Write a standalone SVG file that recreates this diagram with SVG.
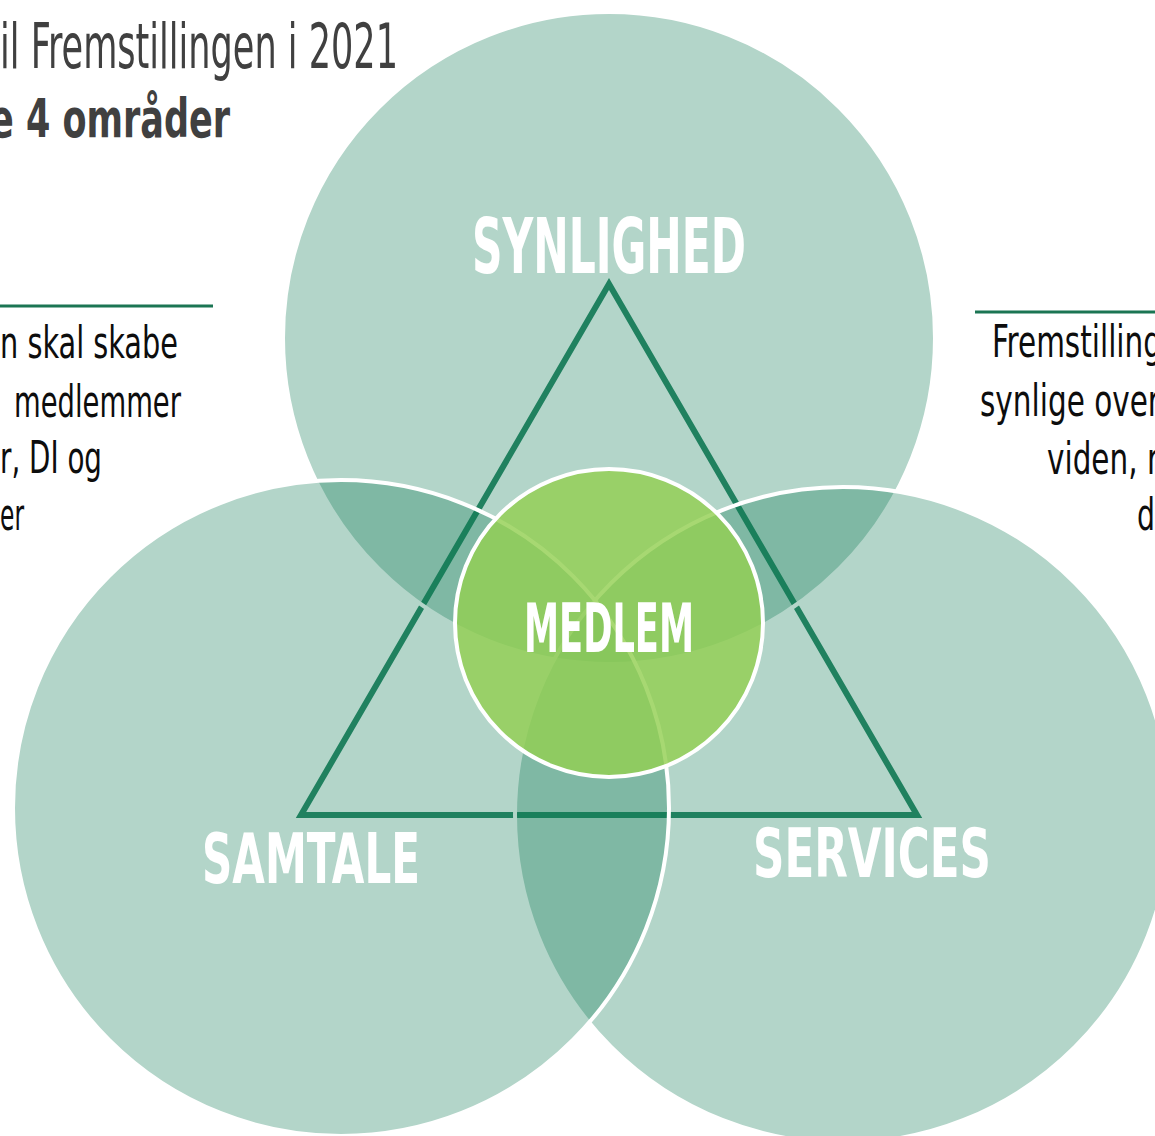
<svg xmlns="http://www.w3.org/2000/svg" width="1155" height="1136" viewBox="0 0 1155 1136">
  <style>
    .big { fill: #0f7a54; fill-opacity: 0.316; stroke: #ffffff; stroke-width: 4; }
    .lbl { font-family: 'DejaVu Sans Condensed', 'DejaVu Sans', sans-serif; font-stretch: condensed; font-weight: bold; fill: #ffffff; }
    .body { font-family: 'DejaVu Sans Condensed', 'DejaVu Sans', sans-serif; font-stretch: condensed; font-size: 45px; fill: #0d0d0d; }
    .title { font-family: 'DejaVu Sans Condensed', 'DejaVu Sans', sans-serif; font-stretch: condensed; fill: #404040; }
    .rule { stroke: #1b7553; stroke-width: 3; }
  </style>
  <rect x="0" y="0" width="1155" height="1136" fill="#ffffff"/>

  <g id="connectors">
    <polygon points="609,284 301,815 917,815" fill="none" stroke="#288464" stroke-width="6" stroke-linejoin="miter"/>
  </g>

  <g id="node-synlighed">
    <circle class="big" cx="609" cy="338" r="326"/>
  </g>
  <g id="node-services">
    <circle class="big" cx="843" cy="815" r="328"/>
  </g>
  <g id="node-samtale">
    <circle class="big" cx="341" cy="808" r="328"/>
  </g>
  <g id="node-medlem">
    <circle cx="609" cy="623" r="154" fill="#92cf51" fill-opacity="0.81" stroke="#ffffff" stroke-width="4"/>
    <text class="lbl" x="524" y="652" font-size="67" textLength="170" lengthAdjust="spacingAndGlyphs">MEDLEM</text>
  </g>

  <g id="labels">
    <text class="lbl" x="472" y="273" font-size="77" textLength="274" lengthAdjust="spacingAndGlyphs">SYNLIGHED</text>
    <text class="lbl" x="202" y="883" font-size="69" textLength="218" lengthAdjust="spacingAndGlyphs">SAMTALE</text>
    <text class="lbl" x="753" y="877" font-size="67" textLength="238" lengthAdjust="spacingAndGlyphs">SERVICES</text>
  </g>

  <g id="title">
    <text class="title" x="0" y="68" font-size="62" textLength="398" lengthAdjust="spacingAndGlyphs">il Fremstillingen i 2021</text>
    <text class="title" x="-10" y="137" font-size="53" font-weight="bold" textLength="240" lengthAdjust="spacingAndGlyphs">e 4 områder</text>
  </g>

  <g id="left-text">
    <line class="rule" x1="0" y1="306" x2="213" y2="306"/>
    <text class="body" x="0" y="358" textLength="178" lengthAdjust="spacingAndGlyphs">n skal skabe</text>
    <text class="body" x="14" y="417" textLength="167" lengthAdjust="spacingAndGlyphs">medlemmer</text>
    <text class="body" x="0" y="473" textLength="102" lengthAdjust="spacingAndGlyphs">r, DI og</text>
    <text class="body" x="0" y="530" textLength="24" lengthAdjust="spacingAndGlyphs">er</text>
  </g>

  <g id="right-text">
    <line class="rule" x1="975" y1="312" x2="1155" y2="312"/>
    <text class="body" x="992" y="357" textLength="170" lengthAdjust="spacingAndGlyphs">Fremstilling</text>
    <text class="body" x="980" y="416" textLength="180" lengthAdjust="spacingAndGlyphs">synlige over</text>
    <text class="body" x="1047" y="474" textLength="112" lengthAdjust="spacingAndGlyphs">viden, r</text>
    <text class="body" x="1137" y="530" textLength="18" lengthAdjust="spacingAndGlyphs">d</text>
  </g>
</svg>
